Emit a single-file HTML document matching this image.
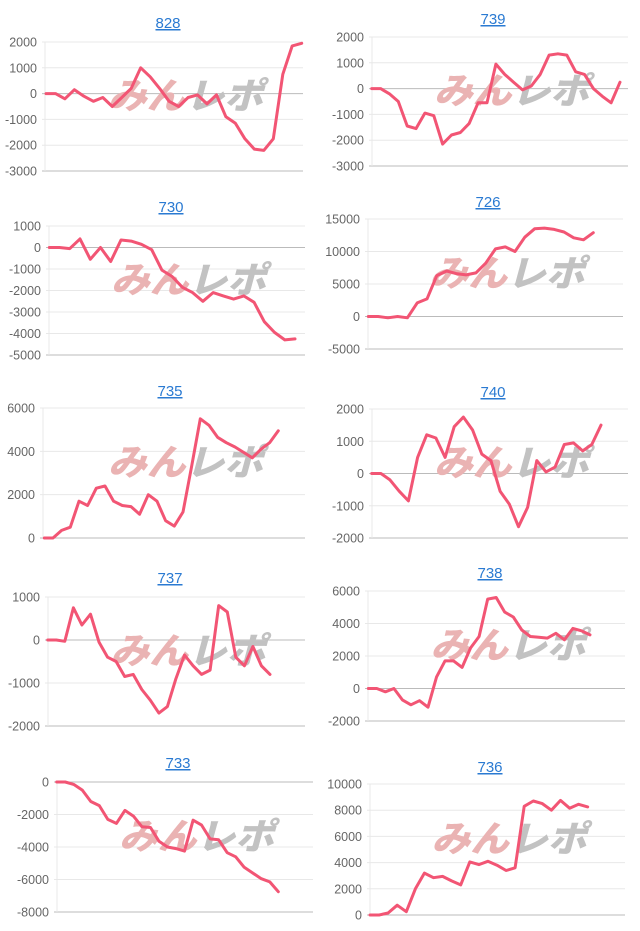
<!DOCTYPE html>
<html><head><meta charset="utf-8">
<style>
html,body{margin:0;padding:0;background:#fff;width:640px;height:931px;overflow:hidden}
svg{display:block}
.tick{font-family:"Liberation Sans",sans-serif;font-size:12.5px;fill:#666}
.title{font-family:"Liberation Sans",sans-serif;font-size:15px;fill:#2a7ad2;text-decoration:underline}
.wm{font-family:"Liberation Sans","Noto Sans CJK JP",sans-serif;font-size:36px;font-weight:900;font-style:italic}
</style></head>
<body>
<svg id="page" width="640" height="931" viewBox="0 0 640 931" xmlns="http://www.w3.org/2000/svg"></svg>
<script>
const names=["828","739","730","726","735","740","737","738","733","736"];
const ticks828=[2000,1000,0,-1000,-2000,-3000];
const values828=[0,0,-200,150,-100,-300,-150,-500,-150,200,1000,650,200,-300,-500,-150,-50,-400,-50,-900,-1150,-1750,-2150,-2200,-1750,750,1850,1950];
const ticks739=[2000,1000,0,-1000,-2000,-3000];
const values739=[0,0,-200,-500,-1450,-1550,-950,-1050,-2150,-1800,-1700,-1350,-550,-550,950,550,250,-50,100,550,1300,1350,1300,650,550,0,-300,-550,250];
const ticks730=[1000,0,-1000,-2000,-3000,-4000,-5000];
const values730=[0,0,-50,400,-550,0,-650,350,300,150,-100,-1050,-1350,-1850,-2100,-2500,-2100,-2250,-2400,-2250,-2550,-3450,-3950,-4300,-4250];
const ticks726=[15000,10000,5000,0,-5000];
const values726=[0,0,-200,0,-200,2100,2700,6300,7000,6600,6400,6700,8200,10400,10700,10000,12200,13500,13600,13400,13000,12100,11800,12900];
const ticks735=[6000,4000,2000,0];
const values735=[0,0,350,500,1700,1500,2300,2400,1700,1500,1450,1100,2000,1700,800,550,1200,3300,5500,5200,4650,4400,4200,3950,3700,4100,4400,4950];
const ticks740=[2000,1000,0,-1000,-2000];
const values740=[0,0,-200,-550,-850,500,1200,1100,500,1450,1750,1350,600,400,-550,-950,-1650,-1050,400,50,200,900,950,700,900,1500];
const ticks737=[1000,0,-1000,-2000];
const values737=[0,0,-30,750,350,600,-50,-400,-500,-850,-800,-1150,-1400,-1700,-1550,-900,-350,-600,-800,-700,800,650,-400,-600,-150,-600,-800];
const ticks738=[6000,4000,2000,0,-2000];
const values738=[0,0,-200,0,-700,-1000,-750,-1150,700,1700,1700,1300,2500,3200,5500,5600,4700,4400,3600,3200,3150,3100,3400,3000,3700,3550,3300];
const ticks733=[0,-2000,-4000,-6000,-8000];
const values733=[0,0,-150,-500,-1200,-1450,-2300,-2550,-1750,-2100,-2750,-2800,-3650,-4000,-4100,-4250,-2350,-2650,-3500,-3550,-4350,-4600,-5250,-5600,-5950,-6150,-6750];
const ticks736=[10000,8000,6000,4000,2000,0];
const values736=[0,0,150,750,250,2000,3200,2850,2950,2600,2300,4050,3850,4100,3800,3400,3600,8300,8700,8500,8000,8750,8150,8450,8250];

const data={"828":[ticks828,values828],"739":[ticks739,values739],"730":[ticks730,values730],"726":[ticks726,values726],"735":[ticks735,values735],"740":[ticks740,values740],"737":[ticks737,values737],"738":[ticks738,values738],"733":[ticks733,values733],"736":[ticks736,values736]};
// layout: left,right,top,bottom,firstX,lastX,titleX,titleY
const layout={
"828":[45,303,42,171,46,301.7,168,28],
"739":[372,628,37,166,371.7,620,493,24],
"730":[49,305,226,355,49.3,295,171,212],
"726":[368,623,219,349,368.3,593.3,488,207],
"735":[43,305,408,538,44.3,278.3,170,396],
"740":[372,628,409,538,371.7,601,493,397],
"737":[48,305,597,726,47.7,270,170,583],
"738":[368,625,591,721,368.3,590,490,578],
"733":[57,313,782,912,56.7,278.3,178,768],
"736":[370,625,784,915,370,587.7,490,772]};

const NS="http://www.w3.org/2000/svg";
const page=document.getElementById('page');
function mk(tag,attrs,parent){const e=document.createElementNS(NS,tag);for(const k in attrs)e.setAttribute(k,attrs[k]);parent.appendChild(e);return e;}

names.forEach(function(n){
  const ticks=data[n][0], vals=data[n][1], L=layout[n];
  const left=L[0],right=L[1],top=L[2],bottom=L[3],fx=L[4],lx=L[5];
  const maxT=ticks[0], minT=ticks[ticks.length-1];
  const yScale=v=>top+(maxT-v)/(maxT-minT)*(bottom-top);
  const xScale=i=>fx+i*(lx-fx)/(vals.length-1);
  const g=mk('g',{},page);
  
  
  const t=mk('text',{x:L[6],y:L[7],'text-anchor':'middle','class':'title'},g);
  t.textContent=n;
  
  
  ticks.forEach(function(tv,idx){
    const y=yScale(tv);
    const isAxis=(tv===0)||(idx===ticks.length-1);
    const ln=mk('line',{x1:left-3,x2:right,y1:y,y2:y,stroke:isAxis?'#bbb':'#e8e8e8','stroke-width':1},g);
    
    
    const lb=mk('text',{x:left-8,y:y+4.5,'text-anchor':'end','class':'tick'},g);
    lb.textContent=String(tv);
    
    
  });
  const ax=mk('line',{x1:left,x2:left,y1:top,y2:bottom,stroke:'#e8e8e8','stroke-width':1},g);
  
  
  const cx=(left+right)/2+11, cy=(top+bottom)/2+2;
  const wm=mk('text',{x:cx-77,y:cy,'class':'wm',textLength:155,lengthAdjust:'spacingAndGlyphs'},g);
  
  
  const s1=mk('tspan',{fill:'#eab3b3'},wm);s1.textContent='みん';
  const s2=mk('tspan',{fill:'#c2c2c2'},wm);s2.textContent='レポ';
  const pts=vals.map((v,i)=>xScale(i).toFixed(1)+','+yScale(v).toFixed(1)).join(' ');
  const pl=mk('polyline',{points:pts,fill:'none',stroke:'#f25574','stroke-width':3,'stroke-linejoin':'round','stroke-linecap':'round'},g);
  
  
});
</script>
</body></html>
